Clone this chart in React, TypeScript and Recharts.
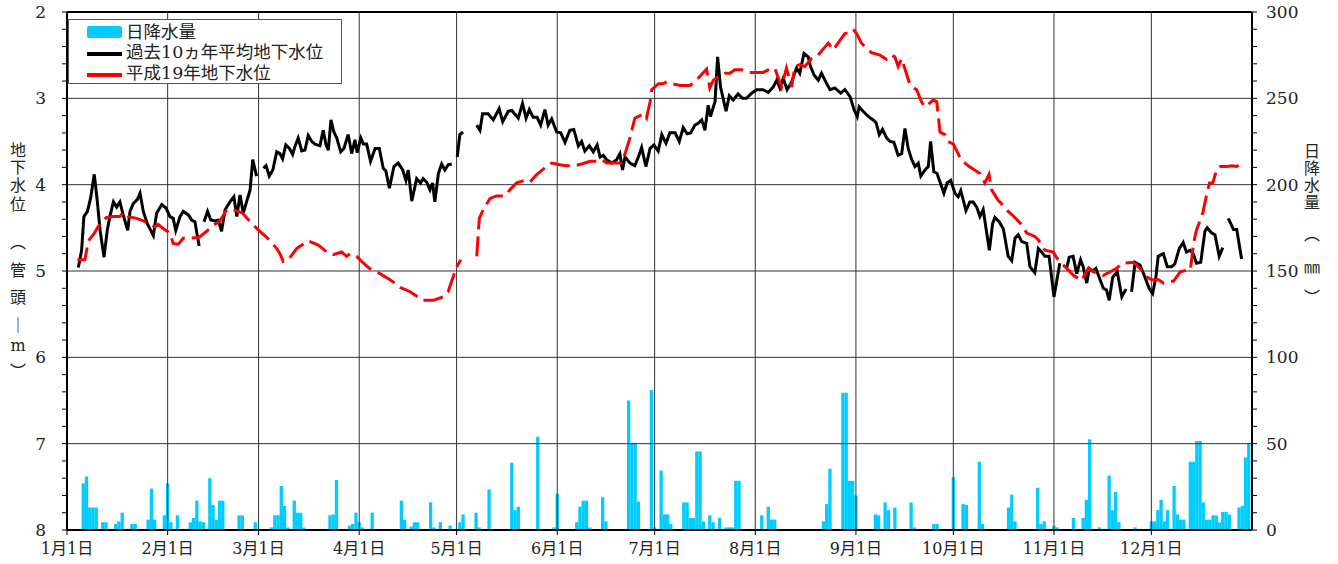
import { ComposedChart, Bar, Line, XAxis, YAxis, ReferenceLine } from 'recharts'

const FONT = "'DejaVu Serif', 'Liberation Serif', 'Noto Sans CJK JP', serif"

// x axis: day of year (0 = 1月1日)
const monthStarts = [0, 31, 59, 90, 120, 151, 181, 212, 243, 273, 304, 334]
const monthLabels = ['1月1日', '2月1日', '3月1日', '4月1日', '5月1日', '6月1日', '7月1日', '8月1日', '9月1日', '10月1日', '11月1日', '12月1日']
const levelLabels = [2, 3, 4, 5, 6, 7, 8]
const rainLabels = [0, 50, 100, 150, 200, 250, 300]

// 日降水量 (mm): [day, mm]
const rainfall: [number, number][] = [
  [5, 27], [6, 31], [7, 13], [8, 13], [9, 13], [11, 4.5], [12, 4.5], [15, 3.5], [16, 5], [17, 10],
  [20, 3.5], [21, 3.5], [25, 6], [26, 24], [27, 6], [30, 8.5], [31, 27], [32, 4.5], [34, 8.5],
  [38, 4.5], [39, 7], [40, 17], [41, 5], [42, 4.5], [44, 30], [45, 14.5], [46, 6], [47, 17], [48, 17],
  [53, 8.5], [54, 8.5], [58, 4.5], [63, 1.5], [64, 8.5], [65, 8.5], [66, 25.5], [67, 14], [68, 1.5],
  [70, 17], [71, 10], [72, 10], [73, 1.5], [81, 8.5], [82, 9], [83, 29], [87, 2.5], [88, 3.5], [89, 10],
  [90, 4.5], [91, 1.5], [94, 10], [103, 17], [104, 6], [106, 2], [107, 4.5], [108, 4.5], [112, 16],
  [113, 1.5], [115, 4.5], [118, 2.5], [121, 4.5], [122, 9], [126, 10], [127, 1.5], [130, 23.5],
  [137, 39], [138, 11.5], [139, 13.5], [145, 54], [150, 1.5], [151, 21], [157, 4.5], [158, 13.5],
  [159, 17], [160, 17], [161, 1.5], [165, 19], [166, 5], [173, 75], [174, 50.5], [175, 50.5], [176, 16.5],
  [180, 81], [181, 1.5], [183, 34.5], [184, 9], [185, 9], [186, 3.5], [190, 16], [191, 16], [192, 7],
  [193, 7], [194, 45.5], [195, 45.5], [196, 5], [198, 8.5], [199, 4.5], [201, 7], [203, 1.5], [204, 1.5],
  [205, 1.5], [206, 28.5], [207, 28.5], [214, 8.5], [216, 13.5], [217, 6], [218, 6], [233, 5], [234, 15],
  [235, 35.5], [239, 79.5], [240, 79.5], [241, 28.5], [242, 28.5], [243, 20], [249, 9], [250, 8.5],
  [252, 16], [253, 11.5], [255, 13], [260, 16], [261, 1.5], [267, 3.5], [268, 3.5], [273, 30.5],
  [276, 15], [277, 14.5], [281, 39.5], [282, 3.5], [290, 13], [291, 20.5], [292, 5], [299, 24.5],
  [300, 3.5], [301, 5], [304, 2.5], [305, 1.5], [310, 7], [313, 7], [314, 17.5], [315, 52.5], [318, 1.5],
  [321, 31.5], [322, 11.5], [323, 22], [324, 4.5], [329, 1.5], [334, 5], [335, 5], [336, 11.5],
  [337, 17.5], [338, 5], [339, 11.5], [341, 25.5], [342, 9], [343, 6], [344, 6], [346, 39.5], [347, 39.5],
  [348, 51.5], [349, 51.5], [350, 16], [351, 6], [352, 6], [353, 8.5], [354, 8.5], [355, 4.5], [356, 10.5],
  [357, 10.5], [358, 9], [361, 13], [362, 14], [363, 42], [364, 50.5],
]

// 過去10ヵ年平均地下水位 (m): [day, level], null = 欠測
const avgLevel: [number, number | null][] = [
  [3.5, 4.96], [4.5, 4.76], [5.2, 4.37], [6.3, 4.31], [7.3, 4.15], [8.4, 3.88], [9.3, 4.18], [10.2, 4.53],
  [11.4, 4.84], [12.4, 4.53], [13.2, 4.37], [14.3, 4.2], [15.3, 4.26], [16.3, 4.2], [17.3, 4.35], [18.7, 4.53],
  [19.4, 4.31], [20.4, 4.22], [21.7, 4.17], [22.5, 4.1], [23.5, 4.31], [24.7, 4.45], [26.6, 4.59], [27.6, 4.33],
  [29.2, 4.23], [30.5, 4.27], [31.7, 4.37], [32.7, 4.39], [33.5, 4.53], [34.8, 4.37], [35.8, 4.31], [37.4, 4.35],
  [38.4, 4.41], [39.4, 4.43], [40.7, 4.71], [41.5, null],
  [42.2, 4.43], [43.3, 4.31], [44.3, 4.41], [45.6, 4.42], [46.6, 4.41], [47.6, 4.54], [48.7, 4.29], [50.2, 4.2],
  [51.4, 4.14], [52.3, 4.37], [53.3, 4.12], [54.3, 4.33], [55.3, 4.2], [56.4, 4.06], [57.2, 3.71], [58.4, 3.9],
  [59.5, null],
  [60.5, 3.81], [61.3, 3.78], [62.3, 3.9], [63.4, 3.83], [64.6, 3.62], [65.6, 3.64], [66.4, 3.7], [67.4, 3.54],
  [68.5, 3.58], [69.5, 3.65], [70.2, 3.56], [71.2, 3.46], [72.3, 3.61], [73.3, 3.6], [74.3, 3.43], [75.4, 3.5],
  [76.4, 3.53], [77.9, 3.55], [78.9, 3.37], [79.8, 3.54], [80.5, 3.6], [81.3, 3.25], [82.2, 3.39], [83.1, 3.46],
  [84.3, 3.62], [85.3, 3.58], [86.6, 3.42], [87.7, 3.64], [88.7, 3.48], [89.4, 3.63], [90.5, 3.46], [91.3, 3.53],
  [92.3, 3.53], [93.5, 3.73], [94.9, 3.58], [96.2, 3.58], [97.4, 3.81], [98.2, 3.84], [99.3, 4.04], [100.7, 3.79],
  [102.0, 3.75], [103.4, 3.83], [104.4, 3.95], [105.1, 3.83], [106.2, 4.19], [107.7, 3.93], [108.9, 3.98],
  [109.7, 3.93], [110.8, 3.97], [111.8, 4.06], [112.6, 3.98], [113.3, 4.2], [114.4, 3.87], [115.4, 3.76],
  [116.4, 3.83], [117.4, 3.77], [118.5, 3.76], [119.4, null],
  [120.2, 3.68], [121.0, 3.42], [122.0, 3.39], [124, null],
  [126.2, 3.31], [127.2, 3.37], [128.0, 3.18], [129.7, 3.18], [131.3, 3.25], [133.1, 3.12], [134.2, 3.27],
  [135.9, 3.15], [137.0, 3.14], [139.0, 3.23], [140.3, 3.06], [141.4, 3.23], [142.4, 3.13], [143.6, 3.22],
  [144.8, 3.22], [145.9, 3.31], [147.2, 3.13], [148.2, 3.31], [149.3, 3.24], [150.8, 3.39], [152.1, 3.4],
  [153.4, 3.51], [154.9, 3.37], [156.1, 3.36], [157.5, 3.55], [158.5, 3.5], [159.5, 3.61], [160.9, 3.55],
  [162.1, 3.62], [163.3, 3.54], [164.2, 3.68], [165.2, 3.66], [166.2, 3.71], [167.8, 3.75], [169.3, 3.71],
  [170.3, 3.64], [171.1, 3.83], [171.9, 3.68], [173.4, 3.75], [174.9, 3.78], [176.0, 3.68], [177.0, 3.57],
  [178.3, 3.79], [179.6, 3.58], [180.8, 3.54], [182.1, 3.61], [183.2, 3.42], [184.5, 3.52], [185.7, 3.4],
  [187.3, 3.4], [188.6, 3.5], [189.8, 3.34], [191.0, 3.41], [192.1, 3.4], [193.4, 3.31], [194.4, 3.29],
  [195.5, 3.25], [196.5, 3.37], [197.5, 3.08], [198.2, 3.21], [199.6, 3.04], [200.4, 2.52], [201.3, 2.87],
  [203.0, 3.15], [204.0, 2.97], [205.2, 3.02], [206.7, 2.95], [208.1, 3.0], [209.3, 3.0], [210.9, 2.94],
  [212.4, 2.9], [214.4, 2.9], [216.0, 2.93], [217.5, 2.87], [218.6, 2.79], [219.6, 2.88], [220.6, 2.77],
  [221.8, 2.9], [223.2, 2.81], [224.7, 2.65], [225.7, 2.71], [227.0, 2.48], [228.3, 2.52], [229.0, 2.63],
  [230.1, 2.73], [231.4, 2.79], [232.4, 2.71], [234.0, 2.83], [235.0, 2.9], [236.5, 2.88], [238.3, 2.94],
  [239.6, 2.9], [241.2, 2.98], [242.4, 3.13], [243.4, 3.21], [244.0, 3.1], [245.2, 3.15], [246.8, 3.21],
  [248.3, 3.25], [249.2, 3.28], [250.2, 3.42], [251.2, 3.36], [252.5, 3.46], [253.5, 3.5], [254.7, 3.51],
  [256.0, 3.66], [257.1, 3.64], [258.1, 3.35], [259.1, 3.58], [260.2, 3.71], [261.2, 3.79], [262.2, 3.75],
  [263.0, 3.9], [264.3, 3.83], [265.3, 3.79], [266.0, 3.5], [267.0, 3.85], [268.0, 3.87], [268.9, 3.97],
  [270.1, 4.1], [271.1, 3.98], [272.2, 3.95], [273.5, 4.1], [274.5, 4.14], [275.3, 4.07], [276.9, 4.3],
  [278.1, 4.2], [279.1, 4.2], [280.2, 4.26], [281.2, 4.37], [282.2, 4.29], [284.1, 4.76], [285.1, 4.45],
  [285.8, 4.38], [287.1, 4.43], [288.4, 4.51], [289.9, 4.83], [291.0, 4.88], [292.0, 4.62], [293.0, 4.58],
  [294.1, 4.66], [295.6, 4.68], [296.6, 4.95], [298.1, 5.02], [299.2, 4.74], [300.2, 4.78], [301.2, 4.83],
  [302.5, 4.83], [304.0, 5.3], [305.8, 4.91], [306.8, null],
  [307.9, 4.97], [308.7, 4.84], [309.9, 4.83], [311.0, 5.03], [312.2, 4.87], [313.0, 4.95], [314.1, 5.14],
  [314.9, 4.97], [315.9, 5.0], [316.9, 4.97], [317.9, 5.07], [319.2, 5.2], [320.2, 5.22], [321.0, 5.34],
  [322.1, 5.07], [323.5, 5.01], [324.9, 5.3], [326.2, 5.21], [327.0, null],
  [327.9, 5.24], [329.0, 4.9], [330.5, 4.93], [332.0, 5.07], [333.3, 5.2], [334.4, 5.26], [335.4, 5.07],
  [336.1, 4.83], [337.7, 4.8], [338.9, 4.95], [340.2, 4.95], [341.2, 4.92], [342.6, 4.74], [343.8, 4.67],
  [344.8, 4.78], [345.9, 4.76], [346.9, 4.8], [347.9, 4.91], [349.2, 4.9], [350.5, 4.54], [351.2, 4.5],
  [352.6, 4.56], [353.6, 4.58], [354.9, 4.83], [356.0, 4.73], [356.8, null],
  [357.7, 4.39], [359.3, 4.52], [360.3, 4.52], [361.8, 4.86],
]

// 平成19年地下水位 (m): [day, level]
const h19Level: [number, number | null][] = [
  [3.2, 4.87], [5.5, 4.87], [6.6, 4.65], [8.1, 4.58], [10.2, 4.45], [12.2, 4.38], [14.3, 4.37], [16.3, 4.37],
  [17.3, 4.32], [18.9, 4.37], [21.5, 4.39], [23.5, 4.42], [25.6, 4.46], [27.1, 4.49], [28.1, 4.46], [29.7, 4.51],
  [31.7, 4.56], [32.7, 4.68], [34.3, 4.69], [35.8, 4.62], [37.9, 4.62], [40.7, 4.61], [43.0, 4.54], [45.1, 4.47],
  [47.1, 4.42], [49.2, 4.29], [51.2, 4.29], [54.1, 4.33], [56.4, 4.43], [59.4, 4.54], [61.5, 4.61], [64.6, 4.74],
  [65.6, 4.8], [66.6, 4.89], [68.2, 4.87], [70.7, 4.74], [74.3, 4.65], [77.4, 4.7], [80.0, 4.78], [82.0, 4.81],
  [84.6, 4.78], [86.1, 4.83], [87.2, 4.8], [89.2, 4.83], [91.3, 4.91], [93.8, 4.99], [96.4, 5.03], [99.5, 5.1],
  [102.6, 5.19], [105.7, 5.24], [109.7, 5.34], [112.8, 5.34], [115.9, 5.3], [117.4, 5.24], [120.0, 4.95],
  [121.3, 4.87], [123.5, null],
  [126.2, 4.83], [127.0, 4.39], [128.2, 4.29], [130.3, 4.16], [132.3, 4.13], [134.9, 4.13], [136.4, 4.06],
  [138.5, 3.98], [141.0, 3.95], [142.6, 3.97], [144.7, 3.88], [146.7, 3.82], [149.3, 3.75], [151.8, 3.77],
  [153.9, 3.78], [156.5, 3.78], [158.5, 3.76], [161.1, 3.73], [163.1, 3.73], [164.7, 3.71], [166.2, 3.75],
  [169.3, 3.75], [170.8, 3.75], [171.9, 3.64], [173.4, 3.46], [174.9, 3.23], [176.0, 3.21], [177.5, 3.18],
  [178.5, 3.23], [179.6, 3.04], [180.1, 2.9], [182.2, 2.83], [183.7, 2.83], [184.7, 2.81], [186.2, 2.83],
  [188.8, 2.85], [191.9, 2.85], [193.4, 2.81], [197.0, 2.66], [198.0, 2.88], [199.1, 2.79], [200.6, 2.75],
  [202.7, 2.71], [204.2, 2.71], [205.7, 2.67], [207.8, 2.67], [209.8, 2.7], [212.4, 2.7], [214.4, 2.7],
  [216.0, 2.67], [218.0, 2.65], [220.1, 2.87], [221.6, 2.65], [223.2, 2.87], [224.2, 2.63], [225.7, 2.61],
  [227.3, 2.63], [229.3, 2.54], [230.9, 2.52], [232.9, 2.43], [234.5, 2.36], [236.0, 2.44], [238.1, 2.33],
  [239.6, 2.25], [240.6, 2.24], [242.2, 2.2], [243.2, 2.25], [244.7, 2.36], [246.3, 2.42], [247.8, 2.47],
  [250.4, 2.5], [252.5, 2.55], [254.0, 2.5], [255.0, 2.52], [256.0, 2.63], [257.1, 2.54], [259.7, 2.85],
  [261.7, 2.9], [263.2, 3.04], [264.3, 3.1], [266.8, 3.02], [267.9, 3.04], [268.9, 3.39], [270.4, 3.42],
  [271.4, 3.5], [273.0, 3.53], [275.0, 3.68], [276.6, 3.75], [277.9, 3.79], [281.2, 3.87], [282.7, 3.98],
  [284.0, 3.88], [284.8, 4.06], [286.8, 4.18], [288.4, 4.24], [289.9, 4.31], [291.4, 4.36], [294.0, 4.46],
  [295.6, 4.56], [298.1, 4.6], [299.2, 4.64], [301.2, 4.76], [303.8, 4.78], [304.9, 4.85], [307.9, 4.97],
  [310.0, 5.05], [312.5, 5.11], [314.6, 4.97], [317.2, 5.03], [319.2, 5.05], [321.8, 5.0], [323.3, 4.97],
  [324.9, 4.91], [328.5, 4.9], [330.5, 4.97], [332.6, 5.07], [334.1, 5.1], [336.2, 5.1], [337.7, 5.14],
  [339.3, 5.12], [340.8, 5.12], [342.9, 5.01], [345.0, 4.99], [346.0, 4.99], [347.0, 4.68], [347.8, 4.54],
  [349.9, 4.32], [351.1, 4.1], [351.9, 3.98], [352.9, 3.98], [354.2, 3.82], [355.2, 3.79], [357.3, 3.79],
  [358.8, 3.78], [360.3, 3.79], [361.9, 3.75],
]

// minor tick positions (labels only at the major values)
const levelTicks = Array.from({ length: 31 }, (_, i) => Math.round((2 + i * 0.2) * 10) / 10)
const rainTicks = Array.from({ length: 31 }, (_, i) => i * 10)

const rainData = rainfall.map(([day, mm]) => ({ day, mm }))
const avgData = avgLevel.map(([day, level]) => ({ day, level }))
const h19Data = h19Level.map(([day, level]) => ({ day, level }))

const leftTitle: [string, number][] = [['地', 151], ['下', 168], ['水', 186], ['位', 205], ['︵', 243], ['管', 271], ['頭', 298], ['｜', 326], ['m', 346], ['︶', 372]]
const rightTitle: [string, number][] = [['日', 152], ['降', 169], ['水', 186], ['量', 203], ['︵', 235], ['㎜', 268], ['︶', 298]]

// fixed-width daily bar, centred on the day
const RainBar = (props: any) => {
  const { x, y, width, height } = props
  if (!height || height <= 0) return null
  const w = 3.3
  return <rect x={x + width / 2 - w / 2} y={y} width={w} height={height} fill="#00CCFF" />
}

function LegendBox() {
  const row = (top: number, swatch: JSX.Element, label: string) => (
    <div style={{ position: 'absolute', left: 0, top, height: 20, width: '100%' }}>
      <div style={{ position: 'absolute', left: 18, top: 4 }}>{swatch}</div>
      <span style={{ position: 'absolute', left: 57, top: 0, lineHeight: '20px', whiteSpace: 'nowrap' }}>{label}</span>
    </div>
  )
  return (
    <div style={{ position: 'absolute', left: 68, top: 19, width: 272, height: 63, border: '1px solid #555', background: '#fff', fontFamily: FONT, fontSize: 17.5, color: '#222' }}>
      {row(2, <div style={{ width: 35, height: 12, background: '#00CCFF', borderRadius: 2 }} />, '日降水量')}
      {row(22, <div style={{ width: 35, height: 4, marginTop: 6, background: '#000' }} />, '過去10ヵ年平均地下水位')}
      {row(43, <div style={{ width: 35, height: 4, marginTop: 6, background: '#ff0000' }} />, '平成19年地下水位')}
    </div>
  )
}

export default function App() {
  return (
    <div style={{ position: 'absolute', left: 0, top: 0, width: 1338, height: 564, background: '#fff', fontFamily: FONT }}>
      <ComposedChart width={1338} height={564} data={rainData} margin={{ top: 12, right: 40, bottom: 10, left: 27 }}>
        <XAxis
          dataKey="day"
          type="number"
          domain={[0, 365]}
          allowDataOverflow
          ticks={monthStarts}
          interval={0}
          tickFormatter={(v: number) => monthLabels[monthStarts.indexOf(v)] ?? ''}
          height={24}
          tickSize={5}
          tickMargin={8}
          axisLine={{ stroke: '#000', strokeWidth: 2 }}
          tickLine={{ stroke: '#000' }}
          tick={{ fill: '#222', fontSize: 16, fontFamily: FONT }}
        />
        <YAxis
          yAxisId="level"
          reversed
          domain={[2, 8]}
          allowDataOverflow
          ticks={levelTicks}
          interval={0}
          tickFormatter={(v: number) => (levelLabels.includes(v) ? String(v) : '')}
          width={40}
          tickSize={5}
          tickMargin={16}
          axisLine={{ stroke: '#000', strokeWidth: 2 }}
          tickLine={{ stroke: '#000' }}
          tick={{ fill: '#222', fontSize: 17, fontFamily: FONT }}
        />
        <YAxis
          yAxisId="rain"
          orientation="right"
          domain={[0, 300]}
          allowDataOverflow
          ticks={rainTicks}
          interval={0}
          tickFormatter={(v: number) => (rainLabels.includes(v) ? String(v) : '')}
          width={46}
          tickSize={5}
          tickMargin={9}
          axisLine={{ stroke: '#000', strokeWidth: 2 }}
          tickLine={{ stroke: '#000' }}
          tick={{ fill: '#222', fontSize: 17, fontFamily: FONT }}
        />
        {levelLabels.slice(1, -1).map((v) => (
          <ReferenceLine key={'h' + v} yAxisId="level" y={v} stroke="#333" strokeWidth={1} />
        ))}
        {monthStarts.slice(1).map((d) => (
          <ReferenceLine key={'v' + d} yAxisId="level" x={d} stroke="#333" strokeWidth={1} />
        ))}
        <ReferenceLine yAxisId="level" y={2} stroke="#000" strokeWidth={2} />
        <Bar yAxisId="rain" dataKey="mm" fill="#00CCFF" shape={RainBar} isAnimationActive={false} />
        <Line yAxisId="level" data={avgData} dataKey="level" type="linear" stroke="#000" strokeWidth={3} dot={false} activeDot={false} isAnimationActive={false} />
        <Line yAxisId="level" data={h19Data} dataKey="level" type="linear" stroke="#ff0000" strokeWidth={3} strokeDasharray="20 7" dot={false} activeDot={false} isAnimationActive={false} />
      </ComposedChart>
      <LegendBox />
      {leftTitle.map(([ch, y], i) => (
        <span key={'l' + i} style={{ position: 'absolute', left: 18, top: y, transform: 'translate(-50%, -50%)', fontSize: 16, color: '#222', lineHeight: 1 }}>{ch}</span>
      ))}
      {rightTitle.map(([ch, y], i) => (
        <span key={'r' + i} style={{ position: 'absolute', left: 1312, top: y, transform: 'translate(-50%, -50%)', fontSize: 16, color: '#222', lineHeight: 1 }}>{ch}</span>
      ))}
    </div>
  )
}
